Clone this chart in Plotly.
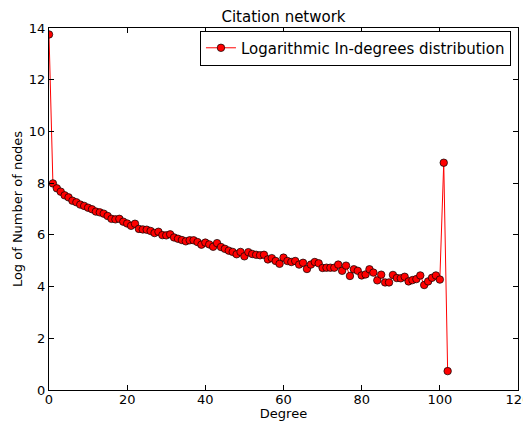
import plotly.graph_objects as go

degrees = list(range(0, 103))
log_counts = [
    13.75, 7.99, 7.80, 7.67, 7.53, 7.45, 7.32, 7.26, 7.17, 7.12,
    7.05, 6.99, 6.90, 6.87, 6.82, 6.73, 6.62, 6.60, 6.62, 6.51,
    6.44, 6.35, 6.43, 6.23, 6.21, 6.20, 6.15, 6.07, 6.12, 5.99,
    5.98, 6.02, 5.90, 5.85, 5.80, 5.75, 5.79, 5.79, 5.72, 5.62,
    5.70, 5.63, 5.54, 5.68, 5.53, 5.46, 5.39, 5.34, 5.25, 5.34,
    5.17, 5.33, 5.26, 5.23, 5.21, 5.23, 5.05, 5.10, 4.99, 4.88,
    5.12, 4.99, 4.95, 4.99, 4.85, 4.92, 4.68, 4.85, 4.95, 4.90,
    4.72, 4.73, 4.73, 4.73, 4.85, 4.61, 4.81, 4.41, 4.67, 4.61,
    4.43, 4.47, 4.67, 4.54, 4.24, 4.46, 4.16, 4.16, 4.45, 4.33,
    4.32, 4.38, 4.20, 4.25, 4.29, 4.43, 4.06, 4.20, 4.34, 4.43,
    4.27, 8.79, 0.73,
]
x_ticks = [0, 20, 40, 60, 80, 100, 120]
y_ticks = [0, 2, 4, 6, 8, 10, 12, 14]

font_family = "DejaVu Sans"

fig = go.Figure()
fig.add_trace(go.Scatter(
    x=degrees, y=log_counts,
    mode="lines+markers",
    name="Logarithmic In-degrees distribution",
    line=dict(color="red", width=1),
    marker=dict(symbol="circle", size=7.5, color="red",
                line=dict(color="black", width=0.7)),
))

axis_common = dict(
    showgrid=False, zeroline=False, automargin=False,
    showline=True, linecolor="black", linewidth=1,
    mirror="ticks", ticks="inside", ticklen=5, tickwidth=1, tickcolor="black",
    ticklabeloverflow="allow",
    tickfont=dict(family=font_family, size=13, color="black"),
)

fig.update_layout(
    width=531, height=413,
    margin=dict(l=41, r=21, t=20, b=31, autoexpand=False),
    paper_bgcolor="white", plot_bgcolor="white",
    font=dict(family=font_family, color="black"),
    title=dict(text="Citation network", x=0.5, xref="paper", xanchor="center",
               y=0.978, yref="container", yanchor="middle",
               font=dict(family=font_family, size=15, color="black")),
    xaxis=dict(range=[0, 120], tickvals=x_ticks, ticklabelstandoff=-3,
               title=dict(text="Degree", standoff=0,
                          font=dict(family=font_family, size=13)),
               **axis_common),
    yaxis=dict(range=[0, 14], tickvals=y_ticks,
               title=dict(text="Log of Number of nodes", standoff=3,
                          font=dict(family=font_family, size=13)),
               **axis_common),
    showlegend=True,
    legend=dict(x=0.985, y=0.993, xanchor="right", yanchor="top",
                bgcolor="white", bordercolor="black", borderwidth=1,
                tracegroupgap=0, itemwidth=30,
                font=dict(family=font_family, size=15, color="black")),
)

fig.write_html("out.html")
